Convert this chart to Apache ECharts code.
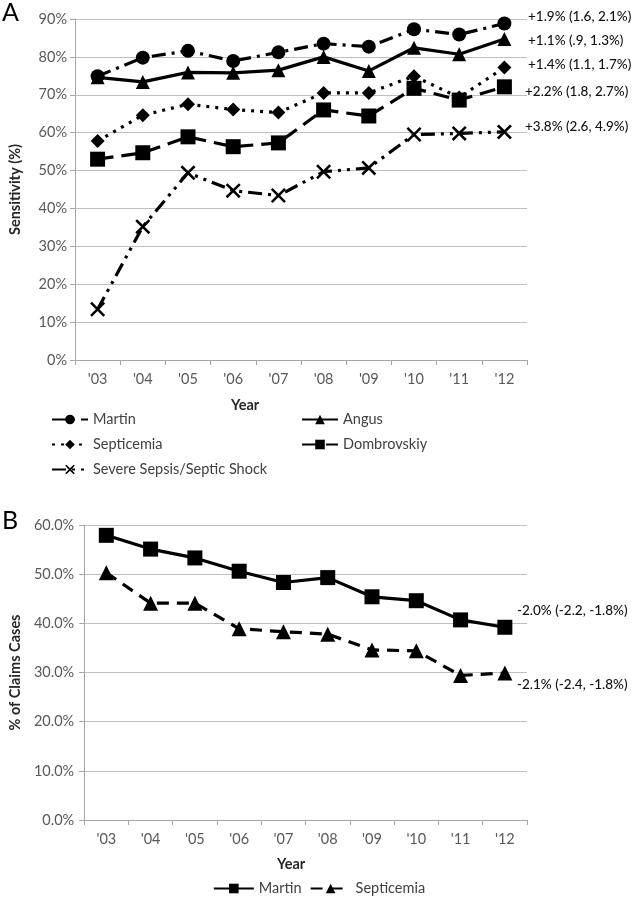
<!DOCTYPE html>
<html><head><meta charset="utf-8">
<script src="https://cdn.jsdelivr.net/npm/echarts@6/dist/echarts.min.js"></script>
<style>html,body{margin:0;padding:0;background:#fff;}#a{position:absolute;left:0;top:0;width:638px;height:480px;}#b{position:absolute;left:0;top:480px;width:638px;height:419px;}</style>
</head><body><div id="a"></div><div id="b"></div>
<script>
const years = ["'03","'04","'05","'06","'07","'08","'09","'10","'11","'12"];
// Panel A: sensitivity (%)
const martinA = [74.9, 79.8, 81.6, 78.9, 81.2, 83.5, 82.7, 87.3, 85.9, 88.8];
const angusA = [74.6, 73.4, 75.9, 75.8, 76.5, 80.0, 76.3, 82.4, 80.7, 84.7];
const septicemiaA = [57.8, 64.6, 67.5, 66.1, 65.3, 70.5, 70.5, 74.9, 69.3, 77.2];
const dombrovskiyA = [53.0, 54.7, 58.9, 56.3, 57.3, 66.0, 64.4, 71.7, 68.6, 72.1];
const severeA = [13.4, 35.2, 49.4, 44.7, 43.4, 49.7, 50.7, 59.5, 59.8, 60.2];
const trendLabelsA = ["+1.9% (1.6, 2.1%)", "+1.1% (.9, 1.3%)", "+1.4% (1.1, 1.7%)", "+2.2% (1.8, 2.7%)", "+3.8% (2.6, 4.9%)"];
// Panel B: % of claims cases
const martinB = [57.9, 55.1, 53.3, 50.6, 48.3, 49.3, 45.4, 44.6, 40.7, 39.2];
const septicemiaB = [50.3, 44.1, 44.1, 38.9, 38.3, 37.8, 34.6, 34.4, 29.4, 29.9];
const trendLabelsB = ["-2.0% (-2.2, -1.8%)", "-2.1% (-2.4, -1.8%)"];

const FONT = 'Lato, "Open Sans", sans-serif';
const grey = '#595959';
const xPath = 'path://M0,1.2 L1.2,0 L5,3.8 L8.8,0 L10,1.2 L6.2,5 L10,8.8 L8.8,10 L5,6.2 L1.2,10 L0,8.8 L3.8,5 Z';

function xAxisCfg(){
  return {type:'category', data:years, boundaryGap:true,
    axisLine:{lineStyle:{color:'#a6a6a6', width:1}},
    axisTick:{show:true, length:5, lineStyle:{color:'#a6a6a6'}},
    axisLabel:{color:grey, fontSize:14.5, fontFamily:FONT, margin:12},
    splitLine:{show:false}};
}
function lineSeries(name, data, dash, symbol, size){
  return {name, type:'line', data, symbol, symbolSize:size,
    lineStyle:{color:'#000', width:3.2, type:dash},
    itemStyle:{color:'#000'}, emphasis:{disabled:true}, animation:false, z:3};
}
const legendText = {color:'#404040', fontSize:14.5, fontFamily:FONT};
const annot = {fontSize:13.5, fontFamily:FONT, fill:'#111', fontWeight:500};
function leg(name, left, top){
  return {data:[name], left, top, itemWidth:36, itemHeight:12, textStyle:legendText, selectedMode:false};
}

const chartA = echarts.init(document.getElementById('a'));
chartA.setOption({
  animation:false,
  grid:{left:73, top:19, width:454, height:341},
  xAxis:xAxisCfg(),
  yAxis:{type:'value', min:0, max:90, interval:10,
    axisLabel:{color:grey, fontSize:14.5, fontFamily:FONT, margin:8, formatter:'{value}%'},
    axisLine:{show:true, lineStyle:{color:'#a6a6a6'}},
    axisTick:{show:true, length:5, lineStyle:{color:'#a6a6a6'}},
    splitLine:{lineStyle:{color:'#bfbfbf', width:1}},
    name:'Sensitivity (%)', nameLocation:'middle', nameRotate:90, nameGap:52,
    nameTextStyle:{color:'#262626', fontSize:14.5, fontWeight:'bold', fontFamily:FONT}},
  legend:[
    leg('Martin', 46, 407),
    leg('Septicemia', 46, 432),
    leg('Severe Sepsis/Septic Shock', 46, 457),
    leg('Angus', 296, 407),
    leg('Dombrovskiy', 296, 432)
  ],
  series:[
    lineSeries('Martin', martinA, [14,6,3,6], 'circle', 14),
    lineSeries('Angus', angusA, 'solid', 'triangle', 14),
    lineSeries('Septicemia', septicemiaA, [3,6], 'diamond', 14),
    lineSeries('Dombrovskiy', dombrovskiyA, [16,8], 'rect', 15),
    lineSeries('Severe Sepsis/Septic Shock', severeA, [14,6,3,6,3,6], xPath, 15)
  ],
  graphic:[
    {type:'text', left:2, top:0, style:{text:'A', fontSize:25, fontFamily:FONT, fill:'#000'}},
    {type:'text', left:231, top:398, style:{text:'Year', fontSize:14.5, fontWeight:'bold', fontFamily:FONT, fill:'#262626'}},
    {type:'text', left:528, top:10, style:Object.assign({text:trendLabelsA[0]}, annot)},
    {type:'text', left:528, top:34, style:Object.assign({text:trendLabelsA[1]}, annot)},
    {type:'text', left:528, top:58, style:Object.assign({text:trendLabelsA[2]}, annot)},
    {type:'text', left:525, top:85, style:Object.assign({text:trendLabelsA[3]}, annot)},
    {type:'text', left:525, top:120, style:Object.assign({text:trendLabelsA[4]}, annot)}
  ]
});

const chartB = echarts.init(document.getElementById('b'));
chartB.setOption({
  animation:false,
  grid:{left:80, top:45, width:447, height:295},
  xAxis:xAxisCfg(),
  yAxis:{type:'value', min:0, max:60, interval:10,
    axisLabel:{color:grey, fontSize:14.5, fontFamily:FONT, margin:10, formatter:v=>v.toFixed(1)+'%'},
    axisLine:{show:true, lineStyle:{color:'#a6a6a6'}},
    axisTick:{show:true, length:5, lineStyle:{color:'#a6a6a6'}},
    splitLine:{lineStyle:{color:'#bfbfbf', width:1}},
    name:'% of Claims Cases', nameLocation:'middle', nameRotate:90, nameGap:60,
    nameTextStyle:{color:'#262626', fontSize:14.5, fontWeight:'bold', fontFamily:FONT}},
  legend:{data:['Martin','Septicemia'], left:'center', top:396, itemGap:8, itemWidth:40, itemHeight:12, textStyle:legendText, selectedMode:false},
  series:[
    lineSeries('Martin', martinB, 'solid', 'rect', 15),
    lineSeries('Septicemia', septicemiaB, [12,8], 'triangle', 15)
  ],
  graphic:[
    {type:'text', left:2, top:28, style:{text:'B', fontSize:25, fontFamily:FONT, fill:'#000'}},
    {type:'text', left:277, top:377, style:{text:'Year', fontSize:14.5, fontWeight:'bold', fontFamily:FONT, fill:'#262626'}},
    {type:'text', left:517, top:124, style:Object.assign({text:trendLabelsB[0]}, annot)},
    {type:'text', left:517, top:198, style:Object.assign({text:trendLabelsB[1]}, annot)}
  ]
});
</script></body></html>
